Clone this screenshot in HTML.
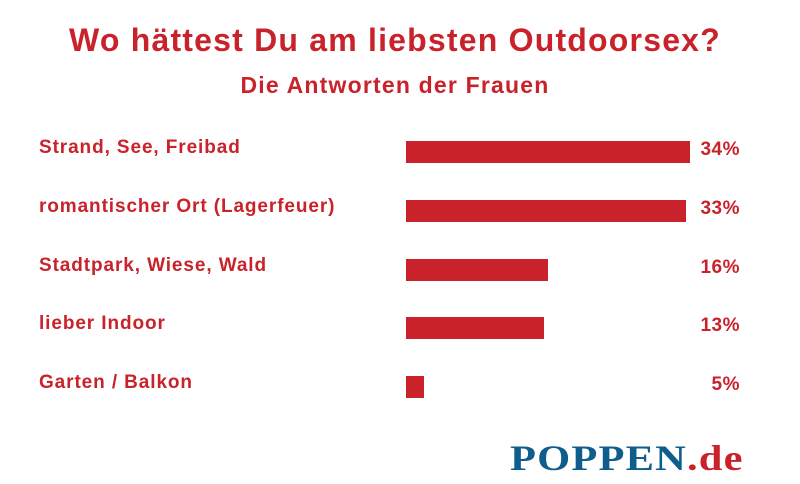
<!DOCTYPE html>
<html><head><meta charset="utf-8"><style>
body{margin:0;width:800px;height:484px;background:#fff;position:relative;overflow:hidden;font-family:"Liberation Sans",sans-serif;color:#c9222a;font-weight:bold}
.a{position:absolute;white-space:nowrap}
.t{left:0;width:790px;text-align:center}
.l{left:39px;font-size:19px;letter-spacing:0.9px}
.b{left:406px;height:22px;background:#c9222a}
.p{right:60px;font-size:19px;text-align:right;letter-spacing:0.5px}
</style></head><body>
<div class="a t" style="top:22px;font-size:32px;letter-spacing:1.2px">Wo hättest Du am liebsten Outdoorsex?</div>
<div class="a t" style="top:72px;font-size:23px;letter-spacing:1.2px">Die Antworten der Frauen</div>

<div class="a l" style="top:137px">Strand, See, Freibad</div>
<div class="a b" style="top:141px;width:284px"></div>
<div class="a p" style="top:139px">34%</div>

<div class="a l" style="top:196px">romantischer Ort (Lagerfeuer)</div>
<div class="a b" style="top:200px;width:280px"></div>
<div class="a p" style="top:198px">33%</div>

<div class="a l" style="top:255px">Stadtpark, Wiese, Wald</div>
<div class="a b" style="top:259px;width:142px"></div>
<div class="a p" style="top:257px">16%</div>

<div class="a l" style="top:313px">lieber Indoor</div>
<div class="a b" style="top:317px;width:138px"></div>
<div class="a p" style="top:315px">13%</div>

<div class="a l" style="top:372px">Garten / Balkon</div>
<div class="a b" style="top:376px;width:18px"></div>
<div class="a p" style="top:374px">5%</div>

<div class="a" style="left:510px;top:436px;font-family:'Liberation Serif',serif;font-size:36px;font-weight:900;letter-spacing:1px;color:#0e5d8c;line-height:44px;transform:scaleX(1.18);transform-origin:left top">POPPEN<span style="color:#c9222a">.de</span></div>
</body></html>
